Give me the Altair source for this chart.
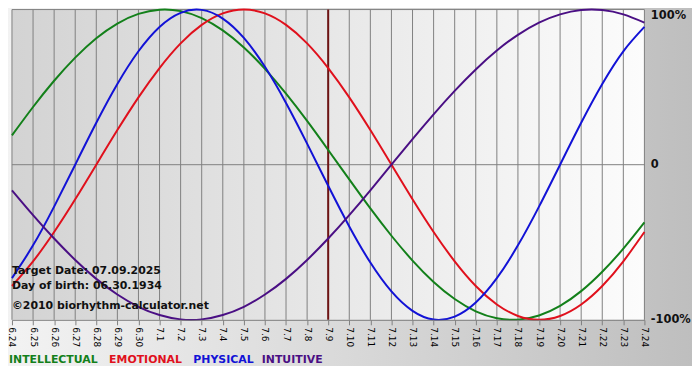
import altair as alt
import pandas as pd

# ---- data ----
dates = ["6.24", "6.25", "6.26", "6.27", "6.28", "6.29", "6.30",
         "7.1", "7.2", "7.3", "7.4", "7.5", "7.6", "7.7", "7.8", "7.9",
         "7.10", "7.11", "7.12", "7.13", "7.14", "7.15", "7.16", "7.17",
         "7.18", "7.19", "7.20", "7.21", "7.22", "7.23", "7.24"]

intellectual = [18.9, 37.2, 54.1, 69.0, 81.5, 91.0, 97.2, 99.9, 99.0, 94.5, 86.6,
                75.6, 61.8, 45.8, 28.2, 9.5, -9.5, -28.2, -45.8, -61.8, -75.6,
                -86.6, -94.5, -99.0, -99.9, -97.2, -91.0, -81.5, -69.0, -54.1, -37.2]
emotional = [-78.2, -62.3, -43.4, -22.3, 0.0, 22.3, 43.4, 62.3, 78.2, 90.1, 97.5,
             100.0, 97.5, 90.1, 78.2, 62.3, 43.4, 22.3, 0.0, -22.3, -43.4,
             -62.3, -78.2, -90.1, -97.5, -100.0, -97.5, -90.1, -78.2, -62.3, -43.4]
physical = [-73.1, -52.0, -27.0, 0.0, 27.0, 52.0, 73.1, 88.8, 97.9, 99.8, 94.2,
            81.7, 63.1, 39.8, 13.6, -13.6, -39.8, -63.1, -81.7, -94.2, -99.8,
            -97.9, -88.8, -73.1, -52.0, -27.0, 0.0, 27.0, 52.0, 73.1, 88.8]
intuitive = [-16.5, -32.5, -47.6, -61.4, -73.6, -83.7, -91.6, -96.9, -99.7, -99.7, -96.9,
             -91.6, -83.7, -73.6, -61.4, -47.6, -32.5, -16.5, 0.0, 16.5, 32.5,
             47.6, 61.4, 73.6, 83.7, 91.6, 96.9, 99.7, 99.7, 96.9, 91.6]

series_names = ["INTELLECTUAL", "EMOTIONAL", "PHYSICAL", "INTUITIVE"]
series_colors = ["#13801a", "#e0101c", "#1212d6", "#4a0f84"]
target_date = "7.9"
y_ticks = [-100, 0, 100]
info_lines = ["Target Date: 07.09.2025", "Day of birth: 06.30.1934",
              "\u00a92010 biorhythm-calculator.net"]

FONT = "DejaVu Sans"
W, H = 638, 313

rows = []
for name, vals in zip(series_names, [intellectual, emotional, physical, intuitive]):
    for d, v in zip(dates, vals):
        rows.append({"date": d, "value": v, "series": name})
df = pd.DataFrame(rows)
dates_df = pd.DataFrame({"date": dates})
zero_df = pd.DataFrame({"v": [0]})
target_df = pd.DataFrame({"date": [target_date]})
one = pd.DataFrame({"a": [0]})

x_scale = alt.Scale(type="point", padding=0, domain=dates)
y_scale = alt.Scale(domain=[-100, 100], nice=False, zero=False)

x_axis = alt.Axis(title=None, labelAngle=90, labelFontSize=9, labelColor="#000000",
                  labelFont=FONT, tickColor="#808080", tickSize=5, domainColor="#808080",
                  labelPadding=2, grid=False, labelOverlap=False, zindex=1)
y_axis = alt.Axis(title=None, orient="right", values=y_ticks, domain=False, ticks=False,
                  grid=False, labelFont=FONT, labelFontSize=11.5, labelFontWeight="bold",
                  labelColor="#111111", labelPadding=6, labelAlign="left",
                  labelBaseline="middle",
                  labelOffset={"condition": {"test": "datum.value == 100", "value": 6}, "value": 0},
                  labelExpr="datum.value == 0 ? '0' : datum.value + '%'", zindex=1)

outer_grad = alt.LinearGradient(gradient="linear",
                                stops=[alt.GradientStop(color="#f4f4f4", offset=0),
                                       alt.GradientStop(color="#bcbcbc", offset=1)],
                                x1=0, x2=1, y1=0, y2=0)
plot_grad = alt.LinearGradient(gradient="linear",
                               stops=[alt.GradientStop(color="#d3d3d3", offset=0),
                                      alt.GradientStop(color="#fcfcfc", offset=1)],
                               x1=0, x2=1, y1=0, y2=0)

outer_bg = alt.Chart(one).mark_rect(fill=outer_grad).encode(
    x=alt.value(-20), x2=alt.value(W + 80), y=alt.value(-20), y2=alt.value(362))
plot_bg = alt.Chart(one).mark_rect(fill=plot_grad).encode(
    x=alt.value(0), x2=alt.value(W), y=alt.value(0), y2=alt.value(H))

grid = alt.Chart(dates_df).mark_rule(color="#808080", strokeWidth=1).encode(
    x=alt.X("date:O", scale=x_scale, axis=x_axis, sort=dates))
zero_line = alt.Chart(zero_df).mark_rule(color="#808080", strokeWidth=1).encode(
    y=alt.Y("v:Q", scale=y_scale, axis=y_axis))
top_line = alt.Chart(one).mark_rule(color="#808080", strokeWidth=1).encode(
    x=alt.value(0), x2=alt.value(W), y=alt.value(0))
target_line = alt.Chart(target_df).mark_rule(color="#6e1414", strokeWidth=2).encode(
    x=alt.X("date:O", scale=x_scale, sort=dates))

lines = alt.Chart(df).mark_line(strokeWidth=2, interpolate="natural").encode(
    x=alt.X("date:O", scale=x_scale, sort=dates),
    y=alt.Y("value:Q", scale=y_scale),
    color=alt.Color("series:N", scale=alt.Scale(domain=series_names, range=series_colors),
                    legend=None),
    detail="series:N")

info_y = [264, 279, 299]
infos = [alt.Chart(pd.DataFrame({"t": [txt]})).mark_text(
            font=FONT, fontSize=11, fontWeight="bold", align="left", baseline="middle",
            color="#111111").encode(text="t:N", x=alt.value(0), y=alt.value(yy))
         for txt, yy in zip(info_lines, info_y)]

legend_x = [-3, 98, 183, 252]
legend_texts = [alt.Chart(pd.DataFrame({"t": [name]})).mark_text(
                    font=FONT, fontSize=11, fontWeight="bold", align="left",
                    baseline="middle", color=col).encode(
                    text="t:N", x=alt.value(xx), y=alt.value(354))
                for name, col, xx in zip(series_names, series_colors, legend_x)]

chart = alt.layer(outer_bg, plot_bg, grid, zero_line, top_line, target_line, lines,
                  *infos, *legend_texts).properties(
    width=W, height=H,
    autosize=alt.AutoSizeParams(type="none"),
    padding={"left": 4, "top": 0, "right": 48, "bottom": 45},
    background="#ffffff",
).configure_view(stroke=None).configure(font=FONT)

chart.save("out.html", embed_options={"renderer": "svg", "actions": False})
